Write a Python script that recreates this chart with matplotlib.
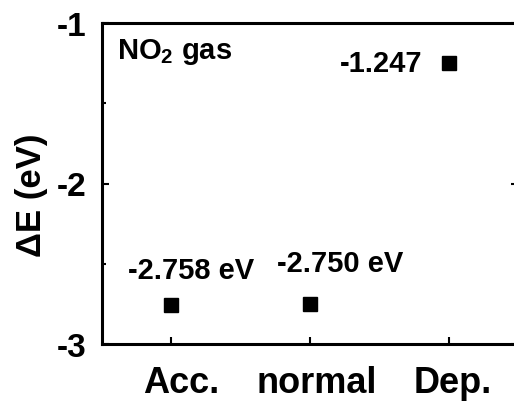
import matplotlib
matplotlib.use("Agg")
import matplotlib.pyplot as plt
from matplotlib.ticker import MultipleLocator
from matplotlib.transforms import ScaledTranslation

plt.rcParams['font.family'] = ['Liberation Sans', 'DejaVu Sans']
plt.rcParams['font.weight'] = 'bold'
plt.rcParams['mathtext.fontset'] = 'custom'
plt.rcParams['mathtext.rm'] = 'Liberation Sans:bold'
plt.rcParams['mathtext.bf'] = 'Liberation Sans:bold'

categories = ["Acc.", "normal", "Dep."]
values = [-2.758, -2.750, -1.247]
value_labels = ["-2.758 eV", "-2.750 eV", "-1.247"]
yticks = [-3, -2, -1]
ytick_labels = ["-3", "-2", "-1"]

fig = plt.figure(figsize=(5.14, 4.02), dpi=100)
ax = fig.add_axes([102/514, 57/402, 416/514, 321/402])

x = list(range(len(categories)))
ax.plot(x, values, linestyle='none', marker='s', ms=9.5, color='black')

ax.set_xlim(-0.5, 2.5)
ax.set_ylim(-3, -1)
ax.set_xticks(x)
ax.set_xticklabels(categories, fontsize=26, fontweight='bold')
ax.set_yticks(yticks)
ax.set_yticklabels(ytick_labels, fontsize=24, fontweight='bold')
ax.yaxis.set_minor_locator(MultipleLocator(0.5))

for s in ax.spines.values():
    s.set_linewidth(2.2)

ax.tick_params(axis='x', direction='in', length=5, width=1.5, pad=15)
ax.tick_params(axis='y', which='major', direction='in', length=5, width=1.5, pad=11, right=True)
ax.tick_params(axis='y', which='minor', direction='in', length=3, width=1.5, right=False)

# small horizontal shifts of the category labels as in the reference
shifts_px = [10, 7, 4]
for lab, dx in zip(ax.get_xticklabels(), shifts_px):
    lab.set_transform(lab.get_transform() + ScaledTranslation(dx / 100, 0, fig.dpi_scale_trans))

fig.text(32/514, 1 - 195/402, "ΔE (eV)", rotation=90, ha='center', va='center',
         fontsize=25, fontweight='bold')

offsets = [(20, 35), (30, 41), (-26, 0)]
has = ['center', 'center', 'right']
for xi, v, lab, off, ha in zip(x, values, value_labels, offsets, has):
    ax.annotate(lab, (xi, v), xytext=off, textcoords='offset pixels',
                ha=ha, va='center', fontsize=21, fontweight='bold')

ax.text(0.036, 0.913, r"NO$_{\mathbf{2}}$ gas", transform=ax.transAxes,
        ha='left', va='center', fontsize=21, fontweight='bold')

fig.savefig("out.png", dpi=100)
